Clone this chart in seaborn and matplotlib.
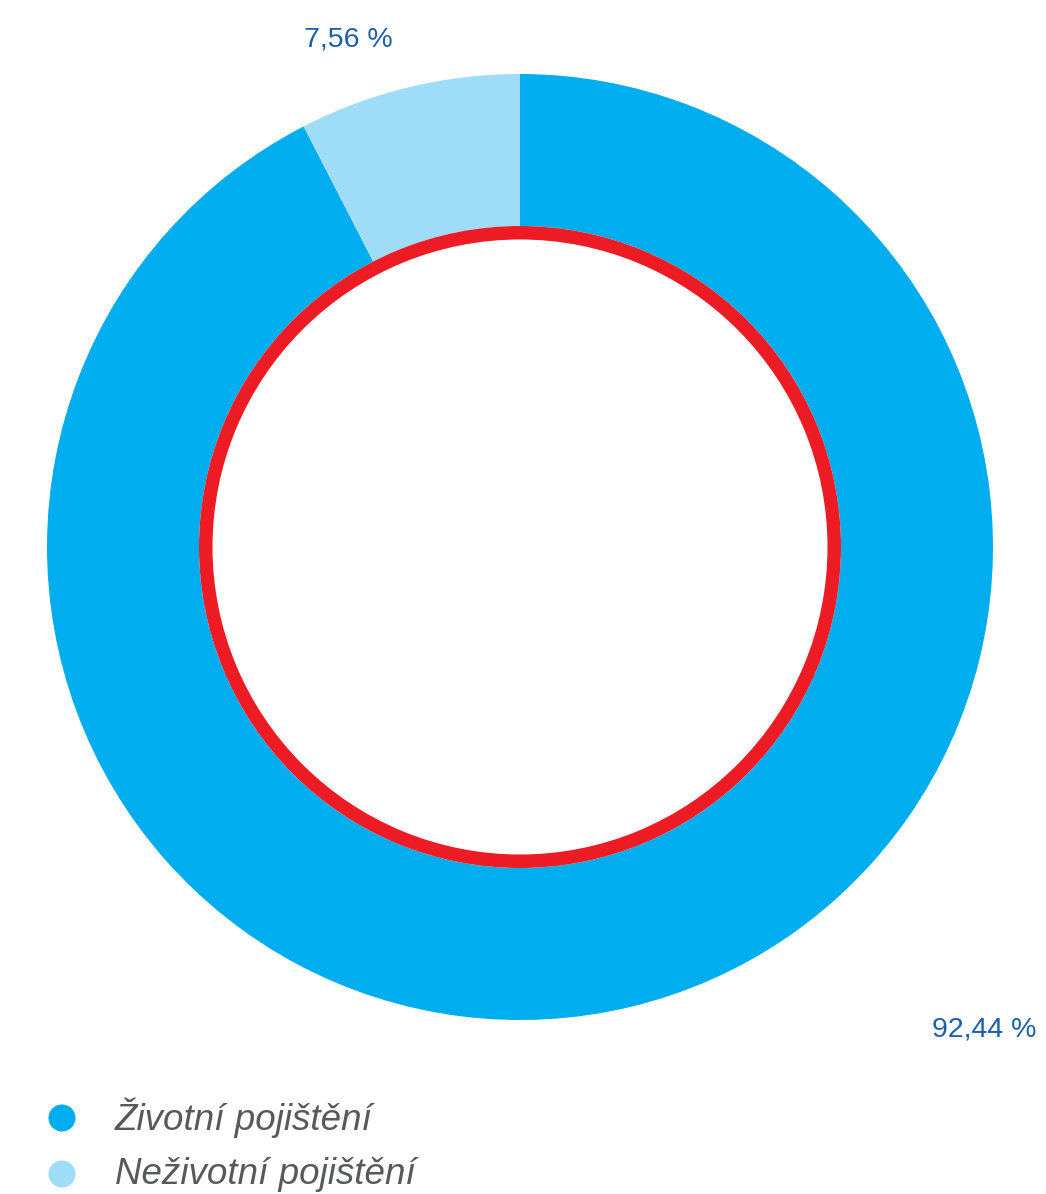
import matplotlib
matplotlib.use("Agg")
import matplotlib.pyplot as plt
from matplotlib.patches import Wedge
import seaborn as sns
import pandas as pd

# Insurance portfolio split
categories = ["Životní pojištění", "Neživotní pojištění"]
shares = [92.44, 7.56]
share_labels = ["92,44 %", "7,56 %"]
colors = ["#00AEEF", "#9FDCF7"]

sns.set_theme(style="white")
plt.rcParams["font.family"] = ["Liberation Sans", "DejaVu Sans"]

W, H = 1046, 1194
fig = plt.figure(figsize=(W / 100, H / 100), dpi=100)
ax = fig.add_axes([0, 0, 1, 1])

cx, cy = 520, H - 547
r_out, r_in = 473, 321

ax.pie(shares, colors=colors, startangle=90, counterclock=False,
       center=(cx, cy), radius=r_out,
       wedgeprops=dict(width=r_out - r_in, linewidth=0, edgecolor="none"))

# red ring along the inner edge
ax.add_patch(Wedge((cx, cy), r_in, 0, 360, width=13.5,
                   facecolor="#ED1C24", edgecolor="none", zorder=5))

ax.set_xlim(0, W)
ax.set_ylim(0, H)
ax.set_aspect("equal", adjustable="box")
ax.axis("off")

label_color = "#1B5FAA"
ax.text(984, H - 1030, share_labels[0], ha="center", va="center",
        fontsize=20.5, color=label_color)
ax.text(348, H - 40, share_labels[1], ha="center", va="center",
        fontsize=20.5, color=label_color)

# legend
leg = pd.DataFrame({"x": [62, 62], "y": [H - 1118, H - 1174], "cat": categories})
sns.scatterplot(data=leg, x="x", y="y", hue="cat", palette=colors,
                s=380, linewidth=0, legend=False, ax=ax, zorder=6)
for yy, name in zip(leg["y"], categories):
    ax.text(115, yy, name, ha="left", va="center", fontsize=26.5,
            style="italic", color="#58595B")

ax.set_xlim(0, W)
ax.set_ylim(0, H)
ax.axis("off")

fig.savefig("out.png", dpi=100)
